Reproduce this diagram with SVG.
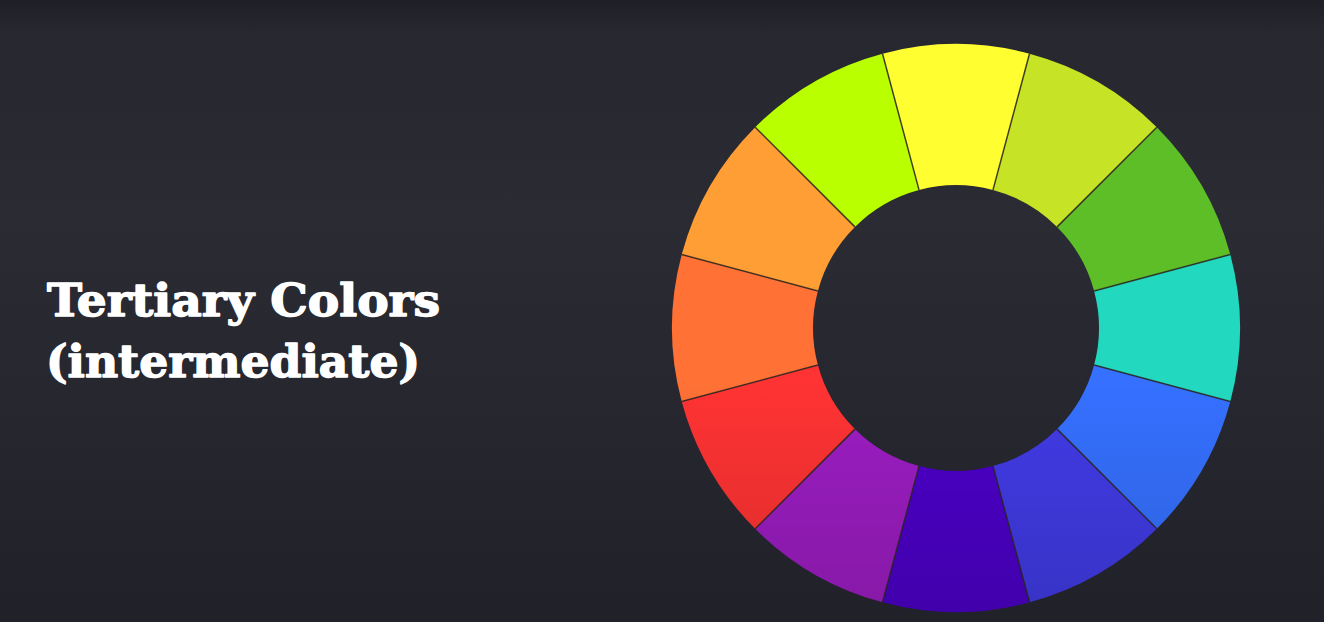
<svg xmlns="http://www.w3.org/2000/svg" width="1324" height="622" viewBox="0 0 1324 622">
<defs>
<linearGradient id="bg" x1="0" y1="0" x2="0" y2="1">
<stop offset="0" stop-color="#1f1f27"/>
<stop offset="0.05" stop-color="#27272f"/>
<stop offset="0.35" stop-color="#2b2b34"/>
<stop offset="1" stop-color="#21212a"/>
</linearGradient>
<linearGradient id="shade" gradientUnits="userSpaceOnUse" x1="0" y1="380" x2="0" y2="612">
<stop offset="0" stop-color="#000" stop-opacity="0"/>
<stop offset="1" stop-color="#000" stop-opacity="0.14"/>
</linearGradient>
<style>
.seg{stroke:none}
.sep{stroke:#2a2420;stroke-width:1.5;stroke-opacity:0.85}
.title{font-family:"DejaVu Serif","Liberation Serif",serif;font-weight:bold;font-size:44px;fill:#ffffff;stroke:#ffffff;stroke-width:1.4;stroke-linejoin:round}
</style>
</defs>
<rect width="1324" height="622" fill="url(#bg)"/>
<g id="wheel">
<g id="seg-yellow"><path class="seg" fill="#fefe30" d="M882.5,53.7 A284,284 0 0 1 1029.5,53.7 L993,189.9 A143,143 0 0 0 919,189.9 Z"/></g>
<g id="seg-yellow-green"><path class="seg" fill="#c6e325" d="M1029.5,53.7 A284,284 0 0 1 1156.8,127.2 L1057.1,226.9 A143,143 0 0 0 993,189.9 Z"/></g>
<g id="seg-green"><path class="seg" fill="#5dbe28" d="M1156.8,127.2 A284,284 0 0 1 1230.3,254.5 L1094.1,291 A143,143 0 0 0 1057.1,226.9 Z"/></g>
<g id="seg-turquoise"><path class="seg" fill="#22d9bf" d="M1230.3,254.5 A284,284 0 0 1 1230.3,401.5 L1094.1,365 A143,143 0 0 0 1094.1,291 Z"/></g>
<g id="seg-blue"><path class="seg" fill="#3570ff" d="M1230.3,401.5 A284,284 0 0 1 1156.8,528.8 L1057.1,429.1 A143,143 0 0 0 1094.1,365 Z"/></g>
<g id="seg-blue-violet"><path class="seg" fill="#413be6" d="M1156.8,528.8 A284,284 0 0 1 1029.5,602.3 L993,466.1 A143,143 0 0 0 1057.1,429.1 Z"/></g>
<g id="seg-violet"><path class="seg" fill="#4c00c8" d="M1029.5,602.3 A284,284 0 0 1 882.5,602.3 L919,466.1 A143,143 0 0 0 993,466.1 Z"/></g>
<g id="seg-purple"><path class="seg" fill="#9c1dc2" d="M882.5,602.3 A284,284 0 0 1 755.2,528.8 L854.9,429.1 A143,143 0 0 0 919,466.1 Z"/></g>
<g id="seg-red"><path class="seg" fill="#ff3333" d="M755.2,528.8 A284,284 0 0 1 681.7,401.5 L817.9,365 A143,143 0 0 0 854.9,429.1 Z"/></g>
<g id="seg-red-orange"><path class="seg" fill="#ff7135" d="M681.7,401.5 A284,284 0 0 1 681.7,254.5 L817.9,291 A143,143 0 0 0 817.9,365 Z"/></g>
<g id="seg-orange"><path class="seg" fill="#ff9e35" d="M681.7,254.5 A284,284 0 0 1 755.2,127.2 L854.9,226.9 A143,143 0 0 0 817.9,291 Z"/></g>
<g id="seg-chartreuse"><path class="seg" fill="#b9ff00" d="M755.2,127.2 A284,284 0 0 1 882.5,53.7 L919,189.9 A143,143 0 0 0 854.9,226.9 Z"/></g>
<path fill="url(#shade)" fill-rule="evenodd" d="M672,328 A284,284 0 1 0 1240,328 A284,284 0 1 0 672,328 Z M813,328 A143,143 0 1 0 1099,328 A143,143 0 1 0 813,328 Z"/>
</g>
<g id="connectors">
<line class="sep" x1="882.5" y1="53.7" x2="919" y2="189.9"/>
<line class="sep" x1="1029.5" y1="53.7" x2="993" y2="189.9"/>
<line class="sep" x1="1156.8" y1="127.2" x2="1057.1" y2="226.9"/>
<line class="sep" x1="1230.3" y1="254.5" x2="1094.1" y2="291"/>
<line class="sep" x1="1230.3" y1="401.5" x2="1094.1" y2="365"/>
<line class="sep" x1="1156.8" y1="528.8" x2="1057.1" y2="429.1"/>
<line class="sep" x1="1029.5" y1="602.3" x2="993" y2="466.1"/>
<line class="sep" x1="882.5" y1="602.3" x2="919" y2="466.1"/>
<line class="sep" x1="755.2" y1="528.8" x2="854.9" y2="429.1"/>
<line class="sep" x1="681.7" y1="401.5" x2="817.9" y2="365"/>
<line class="sep" x1="681.7" y1="254.5" x2="817.9" y2="291"/>
<line class="sep" x1="755.2" y1="127.2" x2="854.9" y2="226.9"/>
</g>
<g id="title">
<text class="title" x="47" y="316" textLength="393" lengthAdjust="spacingAndGlyphs">Tertiary Colors</text>
<text class="title" x="46" y="377" textLength="374" lengthAdjust="spacingAndGlyphs">(intermediate)</text>
</g>
</svg>
